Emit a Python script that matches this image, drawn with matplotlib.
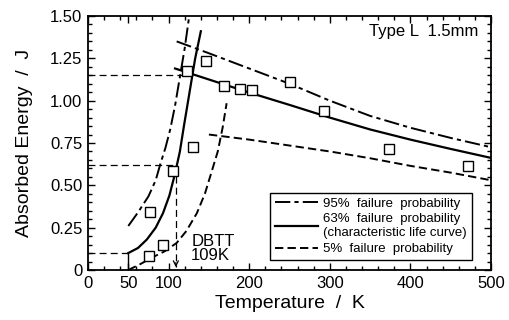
import matplotlib
matplotlib.use('Agg')

import matplotlib.pyplot as plt
from matplotlib.ticker import FixedLocator, MultipleLocator, FuncFormatter

plt.rcParams['font.family'] = ['Liberation Sans', 'DejaVu Sans']
plt.rcParams['lines.scale_dashes'] = False

# ----------------------------
# data
# ----------------------------
# measured absorbed energy (open squares)
temp_pts = [76, 77, 93, 105, 123, 130, 147, 169, 189, 204, 251, 293, 373, 472]
energy_pts = [0.085, 0.345, 0.145, 0.585, 1.177, 0.725, 1.236, 1.087, 1.069, 1.065,
              1.108, 0.941, 0.713, 0.612]

# 63 % failure probability (characteristic life curve)
p63_lo_T = [50, 62, 73, 84, 93, 101, 108, 114, 119, 126, 133, 140]
p63_lo_E = [0.10, 0.13, 0.18, 0.25, 0.335, 0.44, 0.57, 0.70, 0.85, 1.05, 1.25, 1.41]
p63_hi_T = [108, 150, 200, 250, 300, 350, 400, 450, 500]
p63_hi_E = [1.19, 1.125, 1.048, 0.975, 0.90, 0.83, 0.77, 0.715, 0.662]

# 95 % failure probability
p95_lo_T = [50, 62, 75, 84, 90, 96, 102, 108, 114, 120, 125]
p95_lo_E = [0.26, 0.34, 0.435, 0.53, 0.63, 0.72, 0.83, 0.97, 1.14, 1.31, 1.48]
p95_hi_T = [110, 150, 200, 250, 300, 350, 400, 450, 500]
p95_hi_E = [1.35, 1.28, 1.19, 1.10, 1.00, 0.91, 0.84, 0.78, 0.725]

# 5 % failure probability
p05_lo_T = [50, 65, 80, 95, 110, 122, 135, 145, 154, 161, 167, 172]
p05_lo_E = [0.0, 0.035, 0.075, 0.11, 0.16, 0.23, 0.335, 0.45, 0.59, 0.70, 0.84, 0.985]
p05_hi_T = [150, 200, 250, 300, 350, 400, 450, 500]
p05_hi_E = [0.80, 0.77, 0.735, 0.70, 0.66, 0.615, 0.575, 0.53]

# guide lines
lower_shelf_T, lower_shelf_E = 50, 0.10
dbtt_T, dbtt_E = 109, 0.62
upper_E, upper_T_end = 1.15, 125

x_major = [0, 50, 100, 200, 300, 400, 500]

# ----------------------------
# styles
# ----------------------------
DASHDOT = (0, (11, 3, 3, 3))
DASH = (0, (6, 3))
THIN_DASH = (0, (5, 3))

fig = plt.figure(figsize=(5.09, 3.2), dpi=100)
ax = fig.add_axes([88 / 509, 1 - 270 / 320, 403 / 509, 254 / 320])

# guide lines
ax.plot([0, upper_T_end], [upper_E, upper_E], color='k', lw=0.9, linestyle=THIN_DASH)
ax.plot([0, dbtt_T], [dbtt_E, dbtt_E], color='k', lw=0.9, linestyle=THIN_DASH)
ax.plot([dbtt_T, dbtt_T], [dbtt_E, 0.02], color='k', lw=0.9, linestyle=THIN_DASH)
ax.annotate('', xy=(dbtt_T, 0.0), xytext=(dbtt_T, 0.06),
            arrowprops=dict(arrowstyle='->', color='k', lw=0.9, mutation_scale=9))
ax.plot([0, lower_shelf_T], [lower_shelf_E, lower_shelf_E], color='k', lw=0.9,
        linestyle=THIN_DASH)
ax.plot([lower_shelf_T, lower_shelf_T], [0, lower_shelf_E], color='k', lw=1.0)

# curves
ax.plot(p95_lo_T, p95_lo_E, color='k', lw=1.4, linestyle=DASHDOT)
ax.plot(p95_hi_T, p95_hi_E, color='k', lw=1.4, linestyle=DASHDOT,
        label='95%  failure  probability')
ax.plot(p63_lo_T, p63_lo_E, color='k', lw=1.6)
ax.plot(p63_hi_T, p63_hi_E, color='k', lw=1.6,
        label='63%  failure  probability\n(characteristic life curve)')
ax.plot(p05_lo_T, p05_lo_E, color='k', lw=1.4, linestyle=DASH)
ax.plot(p05_hi_T, p05_hi_E, color='k', lw=1.4, linestyle=DASH,
        label='5%  failure  probability')

ax.plot(temp_pts, energy_pts, linestyle='none', marker='s', markersize=6.5,
        markerfacecolor='white', markeredgecolor='k', markeredgewidth=1.0)

# text
ax.text(484, 1.41, 'Type L  1.5mm', ha='right', va='center', fontsize=12)
ax.text(128, 0.215, 'DBTT\n109K', ha='left', va='top', fontsize=12, linespacing=0.95)

# axes
ax.set_xlim(0, 500)
ax.set_ylim(0, 1.5)
ax.xaxis.set_major_locator(FixedLocator(x_major))
ax.xaxis.set_minor_locator(MultipleLocator(20))
ax.yaxis.set_major_locator(MultipleLocator(0.25))
ax.yaxis.set_minor_locator(MultipleLocator(0.05))
ax.yaxis.set_major_formatter(FuncFormatter(lambda v, p: '0' if v == 0 else f'{v:.2f}'))
ax.tick_params(which='both', direction='in', top=True, right=True, width=1.0)
ax.tick_params(which='major', length=5, labelsize=12, pad=4)
ax.tick_params(which='minor', length=3)
for s in ax.spines.values():
    s.set_linewidth(1.3)

ax.set_xlabel('Temperature  /  K', fontsize=14, labelpad=3)
ax.set_ylabel('Absorbed Energy  /  J', fontsize=14, labelpad=12)

leg = ax.legend(loc='lower right', bbox_to_anchor=(0.952, 0.039), fontsize=9.5,
                frameon=True, fancybox=False, framealpha=1.0, edgecolor='black',
                borderpad=0.35, labelspacing=0.3, handlelength=3.3, handletextpad=0.4,
                borderaxespad=0)
leg.get_frame().set_linewidth(1.0)

fig.savefig('out.png', dpi=100)
